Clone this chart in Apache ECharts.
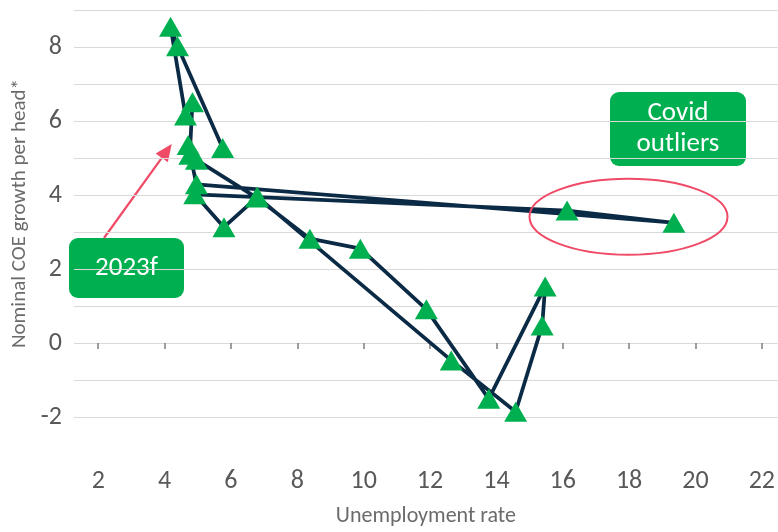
<!DOCTYPE html>
<html>
<head>
<meta charset="utf-8">
<script src="https://cdn.jsdelivr.net/npm/echarts@6/dist/echarts.min.js"></script>
<style>
	html, body { margin: 0; padding: 0; background: #fff; }
	#chart { width: 778px; height: 532px; }
</style>
</head>
<body>
<div id="chart"></div>
<script>
	// unemployment rate (x) and nominal COE growth per head (y), in path order
	var unemp = [5.75, 4.39, 4.18, 4.63, 4.84, 4.76, 4.96, 6.77, 8.38, 9.9, 11.89, 13.77, 15.47, 15.38, 14.58, 12.64, 6.8, 5.79, 4.91, 16.13, 19.35, 4.96, 4.71];
	var coeGrowth = [5.27, 8.02, 8.55, 6.15, 6.51, 5.09, 4.95, 3.93, 2.82, 2.55, 0.91, -1.51, 1.53, 0.47, -1.86, -0.47, 3.95, 3.13, 4.02, 3.58, 3.25, 4.29, 5.35];
	var xTicks = [2, 4, 6, 8, 10, 12, 14, 16, 18, 20, 22];
	var yLabels = [-2, 0, 2, 4, 6, 8];

	var FONT = "Carlito, Calibri, Lato, sans-serif";
	var RED = '#EF4A66';
	var GREEN = '#00B050';

	var points = unemp.map(function(x, i) {
		return [x, coeGrowth[i]];
	});

	// arrow from the 2023f box to the latest point
	function arrow(x1, y1, x2, y2) {
		var dx = x2 - x1, dy = y2 - y1;
		var len = Math.sqrt(dx * dx + dy * dy);
		var ux = dx / len, uy = dy / len;
		var hl = 17, hw = 7.5;
		var bx = x2 - ux * hl, by = y2 - uy * hl;
		return [{
			type: 'line',
			shape: { x1: x1, y1: y1, x2: bx, y2: by },
			style: { stroke: RED, lineWidth: 2.2 }
		}, {
			type: 'polygon',
			shape: { points: [[x2, y2], [bx - uy * hw, by + ux * hw], [bx + uy * hw, by - ux * hw]] },
			style: { fill: RED }
		}];
	}

	function box(x, y, w, h, text) {
		return {
			type: 'group',
			children: [{
				type: 'rect',
				shape: { x: x, y: y, width: w, height: h, r: 9 },
				style: { fill: GREEN }
			}, {
				type: 'text',
				x: x + w / 2,
				y: y + h / 2,
				style: {
					text: text,
					fill: '#fff',
					font: '27px ' + FONT,
					align: 'center',
					verticalAlign: 'middle',
					lineHeight: 31
				}
			}]
		};
	}

	var chart = echarts.init(document.getElementById('chart'));
	chart.setOption({
		backgroundColor: '#fff',
		animation: false,
		grid: { left: 74, right: 0, top: 10, bottom: 109.5, containLabel: false },
		xAxis: {
			type: 'value',
			min: 1.27,
			max: 22.48,
			offset: 25,
			name: 'Unemployment rate',
			nameLocation: 'middle',
			nameGap: 63,
			nameTextStyle: { color: '#6b6b6b', fontSize: 22, fontFamily: FONT },
			axisLine: { show: false },
			axisTick: { show: true, length: 6, customValues: xTicks, lineStyle: { color: '#7f7f7f', width: 1.5 } },
			axisLabel: { customValues: xTicks, color: '#595959', fontSize: 26, fontFamily: FONT, margin: 26 },
			splitLine: { show: false }
		},
		yAxis: {
			type: 'value',
			min: -2,
			max: 9,
			interval: 1,
			name: 'Nominal COE growth per head*',
			nameLocation: 'middle',
			nameRotate: 90,
			nameGap: 42,
			nameTextStyle: { color: '#6b6b6b', fontSize: 21, fontFamily: FONT },
			axisLine: { show: false },
			axisTick: { show: false },
			axisLabel: {
				color: '#595959',
				fontSize: 26,
				fontFamily: FONT,
				margin: 12,
				formatter: function(v) {
					return yLabels.indexOf(v) >= 0 ? String(v) : '';
				}
			},
			splitLine: { show: true, lineStyle: { color: '#d9d9d9', width: 1 } }
		},
		series: [{
			type: 'line',
			data: points,
			symbol: 'triangle',
			symbolSize: [23, 20],
			showAllSymbol: true,
			itemStyle: { color: GREEN, borderWidth: 0 },
			lineStyle: { color: '#0B2A45', width: 3.75 },
			emphasis: { disabled: true }
		}],
		graphic: [
			{
				type: 'ellipse',
				shape: { cx: 628.5, cy: 216.7, rx: 99, ry: 38 },
				style: { fill: 'none', stroke: RED, lineWidth: 2 },
				z: 10
			},
			box(610, 92, 136, 74, 'Covid\noutliers'),
			box(69, 238, 115, 60, '2023f')
		].concat(arrow(104, 238, 171.7, 144))
	});
</script>
</body>
</html>
